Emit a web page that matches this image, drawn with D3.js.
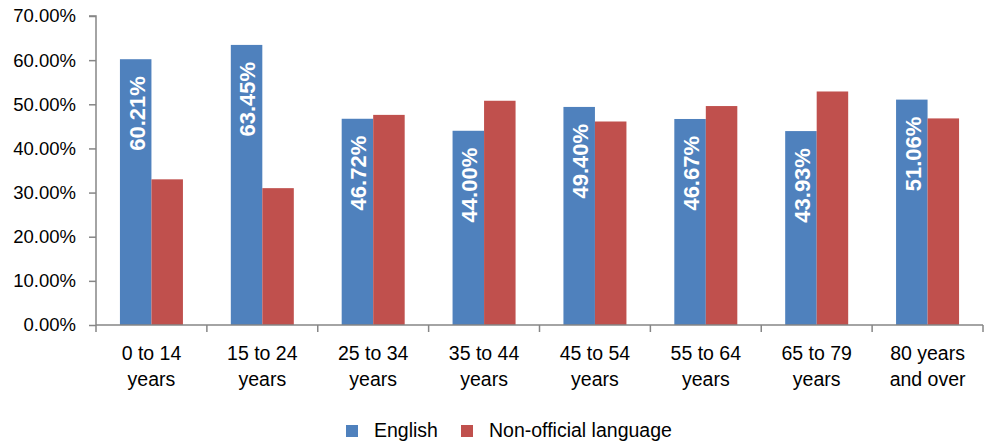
<!DOCTYPE html>
<html>
<head>
<meta charset="utf-8">
<script src="https://cdn.jsdelivr.net/npm/d3@7"></script>
<style>
  html, body { margin: 0; padding: 0; background: #fff; }
  svg { display: block; font-family: "Liberation Sans", Arial, sans-serif; }
</style>
</head>
<body>
<svg id="chart" width="992" height="443"></svg>
<script>
const categories = [["0 to 14", "years"], ["15 to 24", "years"], ["25 to 34", "years"], ["35 to 44", "years"],
                    ["45 to 54", "years"], ["55 to 64", "years"], ["65 to 79", "years"], ["80 years", "and over"]];
const seriesNames = ["English", "Non-official language"];
const english = [60.21, 63.45, 46.72, 44.00, 49.40, 46.67, 43.93, 51.06];
const nonOfficial = [33.0, 31.0, 47.6, 50.8, 46.1, 49.6, 52.9, 46.8];
const yTicks = [0, 10, 20, 30, 40, 50, 60, 70];
const colors = ["#4F81BD", "#C0504D"];

(function () {
const svg = d3.select("#chart");
const mLeft = 96, mRight = 983, mTop = 16, mBottom = 325;
const catKeys = categories.map((c, i) => i);

const x = d3.scaleBand().domain(catKeys).range([mLeft, mRight]).padding(0);
const x1 = d3.scaleBand().domain(seriesNames).range([0, x.bandwidth()]).paddingInner(0).paddingOuter(0.76);
const y = d3.scaleLinear().domain([0, 70]).range([mBottom, mTop]);
const color = d3.scaleOrdinal().domain(seriesNames).range(colors);

const data = catKeys.map(i => ({ i, values: [english[i], nonOfficial[i]] }));

// bars
const groups = svg.append("g").selectAll("g").data(data).join("g")
  .attr("transform", d => `translate(${x(d.i)},0)`);
groups.selectAll("rect").data(d => d.values.map((v, k) => ({ k, v, name: seriesNames[k] })))
  .join("rect")
  .attr("x", d => x1(d.name))
  .attr("y", d => y(d.v))
  .attr("width", x1.bandwidth())
  .attr("height", d => y(0) - y(d.v))
  .attr("fill", d => color(d.name));

// data labels for English
groups.append("text")
  .attr("transform", d => `translate(${x1(seriesNames[0]) + x1.bandwidth() / 2 + 1},${y(d.values[0]) + 17}) rotate(-90)`)
  .attr("text-anchor", "end")
  .attr("dy", "0.36em")
  .attr("fill", "#fff")
  .attr("font-weight", "bold")
  .attr("font-size", 22)
  .text(d => d.values[0].toFixed(2) + "%");

// y axis
const yAxis = d3.axisLeft(y).tickValues(yTicks).tickSize(7).tickPadding(13)
  .tickFormat(d => d.toFixed(2) + "%");
const gy = svg.append("g").attr("transform", `translate(${mLeft},0)`).call(yAxis);
gy.select(".domain").attr("stroke", "#868686").attr("stroke-width", 1.5).attr("d", `M-7,${mTop}H0V${mBottom}`);
gy.selectAll(".tick line").attr("stroke", "#868686").attr("stroke-width", 1.5);
gy.selectAll(".tick text").attr("font-size", 18.5).attr("fill", "#000").attr("font-family", "Liberation Sans, Arial, sans-serif");

// x axis
const gx = svg.append("g").attr("transform", `translate(0,${mBottom})`);
gx.append("line").attr("x1", mLeft).attr("x2", mRight).attr("y1", 0).attr("y2", 0)
  .attr("stroke", "#868686").attr("stroke-width", 1.5);
const bounds = catKeys.map(i => x(i)).concat([x(catKeys[catKeys.length - 1]) + x.bandwidth()]);
gx.selectAll("line.tk").data(bounds).join("line").attr("class", "tk")
  .attr("x1", d => d).attr("x2", d => d).attr("y1", 0).attr("y2", 7)
  .attr("stroke", "#868686").attr("stroke-width", 1.5);
const lbl = gx.selectAll("text").data(categories).join("text")
  .attr("text-anchor", "middle")
  .attr("font-size", 19.5)
  .attr("fill", "#000")
  .attr("transform", (d, i) => `translate(${x(i) + x.bandwidth() / 2},0)`);
lbl.append("tspan").attr("x", 0).attr("y", 35).text(d => d[0]);
lbl.append("tspan").attr("x", 0).attr("y", 61).text(d => d[1]);

// legend
const legendItems = [{ name: seriesNames[0], sx: 346, tx: 374 }, { name: seriesNames[1], sx: 461, tx: 489 }];
const lg = svg.append("g");
lg.selectAll("rect").data(legendItems).join("rect")
  .attr("x", d => d.sx).attr("y", 425).attr("width", 12).attr("height", 12)
  .attr("fill", d => color(d.name));
lg.selectAll("text").data(legendItems).join("text")
  .attr("x", d => d.tx).attr("y", 437)
  .attr("font-size", 19.5).attr("fill", "#000")
  .text(d => d.name);
})();
</script>
</body>
</html>
